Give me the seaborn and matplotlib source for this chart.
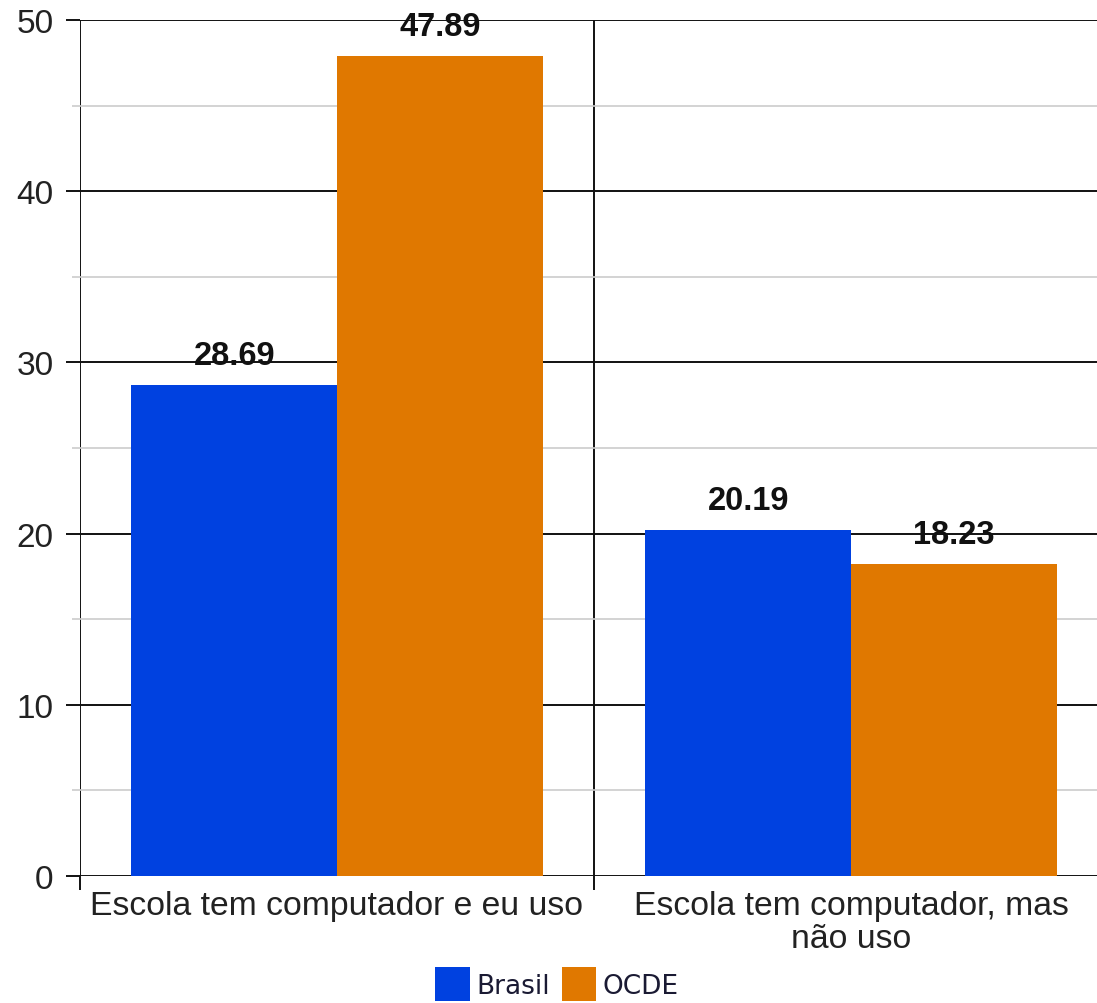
import matplotlib
matplotlib.use("Agg")
import matplotlib.pyplot as plt
import seaborn as sns
import pandas as pd
from matplotlib.ticker import MultipleLocator, FixedLocator

categories = ["Escola tem computador e eu uso", "Escola tem computador, mas\nnão uso"]
series = ["Brasil", "OCDE"]
brasil = [28.69, 20.19]
ocde = [47.89, 18.23]
colors = ["#0041e0", "#e07800"]

df = pd.DataFrame({
    "cat": categories * 2,
    "serie": [series[0]] * 2 + [series[1]] * 2,
    "val": brasil + ocde,
})

sns.set_theme(style="white")
plt.rcParams["font.family"] = ["Liberation Sans", "DejaVu Sans"]

fig = plt.figure(figsize=(10.97, 10.04), dpi=100)
ax = fig.add_axes([80 / 1097, 127 / 1004, 1028 / 1097, 856 / 1004])

sns.barplot(data=df, x="cat", y="val", hue="serie", palette=colors,
            saturation=1, width=0.8, gap=0, linewidth=0, ax=ax, legend=True)

for c in ax.containers:
    ax.bar_label(c, fmt="%.2f", padding=10, fontsize=23.5, fontweight="bold",
                 color="#111111")

ax.set_xlim(-0.5, 1.5)
ax.set_ylim(0, 50)
ax.set_xlabel("")
ax.set_ylabel("")

for s in ax.spines.values():
    s.set_visible(False)

ax.yaxis.set_major_locator(MultipleLocator(10))
ax.yaxis.set_minor_locator(MultipleLocator(5))
ax.xaxis.set_minor_locator(FixedLocator([-0.5, 0.5, 1.5]))
ax.set_axisbelow(True)
ax.grid(which="major", axis="y", color="#111111", linewidth=1.4)
ax.grid(which="minor", axis="y", color="#cccccc", linewidth=1.2)
ax.grid(which="minor", axis="x", color="#111111", linewidth=1.4)
ax.grid(which="major", axis="x", visible=False)

ax.tick_params(axis="y", which="major", length=10, width=1.4, color="#111111",
               left=True, labelsize=24, labelcolor="#222222", pad=9)
ax.tick_params(axis="y", which="minor", length=6, width=1.2, color="#cccccc", left=True)
ax.tick_params(axis="x", which="major", length=0, labelsize=24.3,
               labelcolor="#222222", pad=10)
ax.tick_params(axis="x", which="minor", length=10, width=1.4, color="#111111",
               bottom=True)
for lab in ax.get_xticklabels():
    lab.set_multialignment("center")
    lab.set_linespacing(1.1)

handles, labels = ax.get_legend_handles_labels()
ax.get_legend().remove()
fig.legend(handles, labels, loc="upper center", ncol=2,
           bbox_to_anchor=(557 / 1097, 1 - 968 / 1004), frameon=False,
           prop={"family": "DejaVu Sans", "size": 19},
           labelcolor="#1a1a33", handlelength=1.3, handleheight=1.6,
           handletextpad=0.25, columnspacing=0.45, borderpad=0, borderaxespad=0)

fig.savefig("out.png", dpi=100)
